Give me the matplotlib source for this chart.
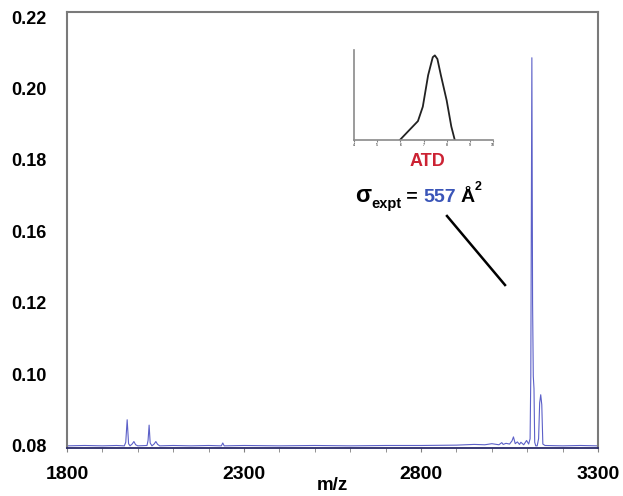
import numpy as np
import matplotlib.pyplot as plt
from matplotlib.lines import Line2D

plt.rcParams['font.family'] = ['Liberation Sans', 'DejaVu Sans']

# mass spectrum (m/z, intensity)
mz = [1800, 1850, 1900, 1940, 1962, 1966, 1970, 1974, 1978, 1984, 1989, 1994,
      2000, 2026, 2029, 2032, 2035, 2040, 2046, 2051, 2056, 2062, 2100, 2150,
      2200, 2236, 2240, 2244, 2300, 2400, 2500, 2600, 2700, 2800, 2900, 2950,
      2980, 3000, 3020, 3028, 3032, 3040, 3050, 3057, 3061, 3066, 3072, 3078,
      3082, 3090, 3098, 3104, 3108, 3110, 3113, 3115, 3117, 3119, 3121, 3124,
      3128, 3132, 3135, 3138, 3141, 3144, 3150, 3200, 3250, 3300]
inten = [0.0800, 0.0801, 0.0800, 0.0801, 0.0800, 0.0810, 0.0873, 0.0806, 0.0800, 0.0805, 0.0812, 0.0803,
         0.0800, 0.0801, 0.0815, 0.0858, 0.0808, 0.0800, 0.0805, 0.0812, 0.0804, 0.0800, 0.0801, 0.0800,
         0.0801, 0.0800, 0.0808, 0.0800, 0.0801, 0.0800, 0.0801, 0.0800, 0.0801, 0.0801, 0.0802, 0.0804,
         0.0803, 0.0806, 0.0803, 0.0809, 0.0804, 0.0807, 0.0805, 0.0814, 0.0825, 0.0806, 0.0811, 0.0804,
         0.0810, 0.0803, 0.0815, 0.0805, 0.0820, 0.1000, 0.2086, 0.1200, 0.0995, 0.0960, 0.0810, 0.0800,
         0.0800, 0.0820, 0.0920, 0.0943, 0.0915, 0.0805, 0.0801, 0.0800, 0.0801, 0.0800]

# y axis labels as printed (0.14 is absent in the original)
ytick_vals = [0.08, 0.10, 0.12, 0.16, 0.18, 0.20, 0.22]
ytick_labels = ['0.08', '0.10', '0.12', '0.16', '0.18', '0.20', '0.22']
xticks = [1800, 2300, 2800, 3300]

# arrival time distribution inset
atd_x = [1.98, 2.35, 2.76, 2.97, 3.2, 3.4, 3.49, 3.6, 3.75, 4.0, 4.2, 4.35]
atd_y = [0.0, 0.10, 0.21, 0.37, 0.72, 0.92, 0.94, 0.90, 0.72, 0.44, 0.15, 0.0]
atd_ticks = [0, 1, 2, 3, 4, 5, 6]
atd_ticklabels = ['4', '5', '6', '7', '8', '9', '10']

# piecewise axis so the printed labels fall evenly spaced
yv = np.array([0.06] + ytick_vals + [0.24])
yp = np.arange(-1, len(ytick_vals) + 1, dtype=float)


def fwd(v):
    return np.interp(v, yv, yp)


def inv(p):
    return np.interp(p, yp, yv)


fig = plt.figure(figsize=(6.23, 4.96), dpi=100)
ax = fig.add_axes([0.1075, 0.0968, 0.8525, 0.8790])
ax.plot(mz, inten, color='#5c60c8', lw=0.8)
ax.set_yscale('function', functions=(fwd, inv))
ax.set_xlim(1800, 3300)
ax.set_ylim(inv(-0.03), inv(6.07))
ax.set_yticks(ytick_vals)
ax.set_yticklabels(ytick_labels)
ax.set_xticks(xticks)
ax.set_xticks(np.arange(1800, 3301, 100), minor=True)
ax.tick_params(axis='y', length=0, pad=15, labelsize=13)
ax.tick_params(axis='x', which='both', direction='out', length=3, color='#808080',
               labelsize=14, pad=10)
for lab in ax.get_xticklabels() + ax.get_yticklabels():
    lab.set_fontweight('bold')
for s in ['left', 'right', 'top']:
    ax.spines[s].set_color('#7a7a7a')
    ax.spines[s].set_linewidth(1.5)
ax.spines['bottom'].set_color('#2a2a6a')
ax.spines['bottom'].set_linewidth(1.3)
ax.set_xlabel('m/z', fontweight='bold', fontsize=13.5, labelpad=-4)

# inset
ins = fig.add_axes([354 / 623, 1 - 140 / 496, 139 / 623, 90 / 496])
ins.plot(atd_x, atd_y, color='#222222', lw=1.3)
ins.set_xlim(0, 6)
ins.set_ylim(0, 1)
ins.set_xticks(atd_ticks)
ins.set_xticklabels(atd_ticklabels)
ins.set_yticks([])
ins.tick_params(axis='x', length=1.5, labelsize=2.5, pad=1, color='#808080')
for s in ['right', 'top']:
    ins.spines[s].set_visible(False)
for s in ['left', 'bottom']:
    ins.spines[s].set_color('#8a8a8a')
    ins.spines[s].set_linewidth(1.2)
ins.patch.set_alpha(0)

fig.text(427 / 623, 1 - 162 / 496, 'ATD', color='#cc2233', fontweight='bold',
         fontsize=13, ha='center', va='center')

# cross-section label, built piece by piece
yb = 1 - 202 / 496
t1 = fig.text(355 / 623, yb, 'σ', fontweight='bold', fontsize=17, va='baseline')
t2 = ax.annotate('expt', xy=(1, yb - 0.012), xycoords=(t1, 'figure fraction'),
                 fontweight='bold', fontsize=10.5, va='baseline')
t3 = ax.annotate(' = ', xy=(1, yb), xycoords=(t2, 'figure fraction'),
                 fontweight='bold', fontsize=14, va='baseline')
t4 = ax.annotate('557', xy=(1, yb), xycoords=(t3, 'figure fraction'),
                 fontweight='bold', fontsize=14, va='baseline', color='#3a55b8')
t5 = ax.annotate('Å', xy=(1, yb), xycoords=(t4, 'figure fraction'),
                 xytext=(3, 0), textcoords='offset points',
                 fontweight='bold', fontsize=14, va='baseline')
t6 = ax.annotate('2', xy=(1, yb + 0.024), xycoords=(t5, 'figure fraction'),
                 fontweight='bold', fontsize=9, va='baseline')

fig.add_artist(Line2D([447 / 623, 505 / 623], [1 - 216 / 496, 1 - 285 / 496],
                      color='black', lw=1.8, transform=fig.transFigure))

fig.savefig('out.png', dpi=100)
